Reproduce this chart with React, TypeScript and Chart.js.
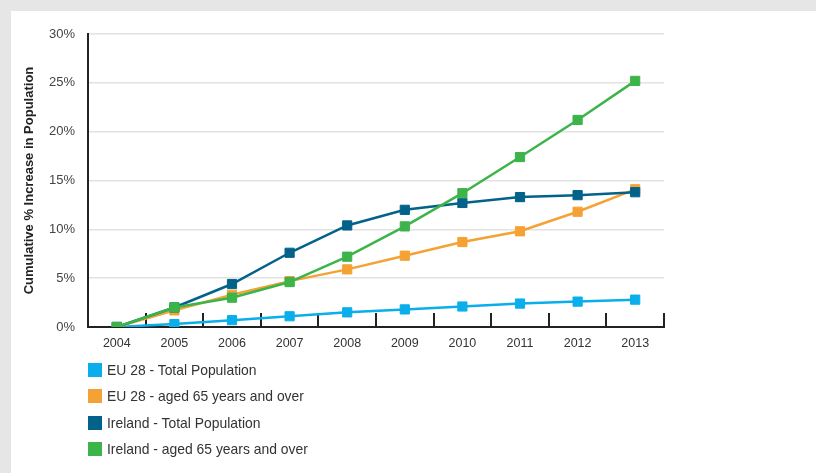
import React, { useEffect, useRef } from "react";
import { Chart, registerables } from "chart.js";

Chart.register(...registerables);

const years = ["2004", "2005", "2006", "2007", "2008", "2009", "2010", "2011", "2012", "2013"];
const euTotal = [0, 0.3, 0.7, 1.1, 1.5, 1.8, 2.1, 2.4, 2.6, 2.8];
const eu65 = [0, 1.7, 3.3, 4.7, 5.9, 7.3, 8.7, 9.8, 11.8, 14.1];
const ieTotal = [0, 2.0, 4.4, 7.6, 10.4, 12.0, 12.7, 13.3, 13.5, 13.8];
const ie65 = [0, 2.0, 3.0, 4.6, 7.2, 10.3, 13.7, 17.4, 21.2, 25.2];

const seriesLabels = [
  "EU 28 - Total Population",
  "EU 28 - aged 65 years and over",
  "Ireland - Total Population",
  "Ireland - aged 65 years and over",
];
const seriesColors = ["#0aaeea", "#f5a234", "#02628a", "#3cb44a"];
const seriesData = [euTotal, eu65, ieTotal, ie65];
const seriesOrder = [3, 2, 1, 0];

const yTitle = "Cumulative % Increase in Population";
const FONT = "'Liberation Sans', Arial, Helvetica, sans-serif";

export default function App() {
  const ref = useRef<HTMLCanvasElement | null>(null);

  useEffect(() => {
    if (!ref.current) return;
    const chart = new Chart(ref.current, {
      type: "line",
      data: {
        labels: years,
        datasets: seriesData.map((d, i) => ({
          label: seriesLabels[i],
          data: d,
          borderColor: seriesColors[i],
          backgroundColor: seriesColors[i],
          pointBackgroundColor: seriesColors[i],
          pointBorderColor: seriesColors[i],
          pointStyle: "rect",
          pointRadius: 6.5,
          pointBorderWidth: 1,
          borderWidth: 2.5,
          tension: 0,
          fill: false,
          order: seriesOrder[i],
        })),
      },
      options: {
        animation: false,
        responsive: false,
        maintainAspectRatio: false,
        layout: { padding: { left: 0, top: 34, right: 152, bottom: 0 } },
        plugins: {
          legend: { display: false },
          tooltip: { enabled: false },
        },
        scales: {
          x: {
            type: "category",
            offset: true,
            grid: {
              offset: true,
              drawOnChartArea: false,
              drawTicks: true,
              tickLength: -14,
              tickColor: "#222",
              lineWidth: 2,
            },
            border: { display: true, color: "#222", width: 2 },
            ticks: {
              color: "#333",
              font: { family: FONT, size: 12.5 },
              padding: 23,
              maxRotation: 0,
              autoSkip: false,
            },
            afterFit: (s: any) => {
              s.height = 473 - 327;
            },
          },
          y: {
            min: 0,
            max: 30,
            ticks: {
              stepSize: 5,
              color: "#444",
              font: { family: FONT, size: 13 },
              padding: 13,
              callback: (v: any) => v + "%",
            },
            grid: {
              color: (ctx: any) => (ctx.tick && ctx.tick.value === 0 ? "rgba(0,0,0,0)" : "#e2e2e2"),
              lineWidth: 1.5,
              drawTicks: false,
            },
            border: { display: true, color: "#222", width: 2 },
            title: {
              display: true,
              text: yTitle,
              color: "#222",
              font: { family: FONT, size: 13, weight: "bold" },
              padding: { top: 22, bottom: 0 },
            },
            afterFit: (s: any) => {
              s.width = 88;
            },
          },
        },
      },
    });
    return () => chart.destroy();
  }, []);

  return (
    <div
      style={{
        position: "absolute",
        left: 0,
        top: 0,
        width: 816,
        height: 473,
        background: "#e6e6e6",
        overflow: "hidden",
      }}
    >
      <div
        style={{
          position: "absolute",
          left: 11,
          top: 11,
          right: 0,
          bottom: 0,
          background: "#ffffff",
        }}
      />
      <canvas
        ref={ref}
        width={816}
        height={473}
        style={{ position: "absolute", left: 0, top: 0, width: 816, height: 473 }}
      />
      {seriesLabels.map((lab, i) => (
        <div
          key={lab}
          style={{
            position: "absolute",
            left: 88,
            top: 370 + i * 26.3 - 9,
            height: 18,
            display: "flex",
            alignItems: "center",
            fontFamily: FONT,
            fontSize: 13.9,
            color: "#333",
            whiteSpace: "nowrap",
          }}
        >
          <span
            style={{
              display: "inline-block",
              width: 14,
              height: 14,
              background: seriesColors[i],
              marginRight: 5,
            }}
          />
          <span>{lab}</span>
        </div>
      ))}
    </div>
  );
}
